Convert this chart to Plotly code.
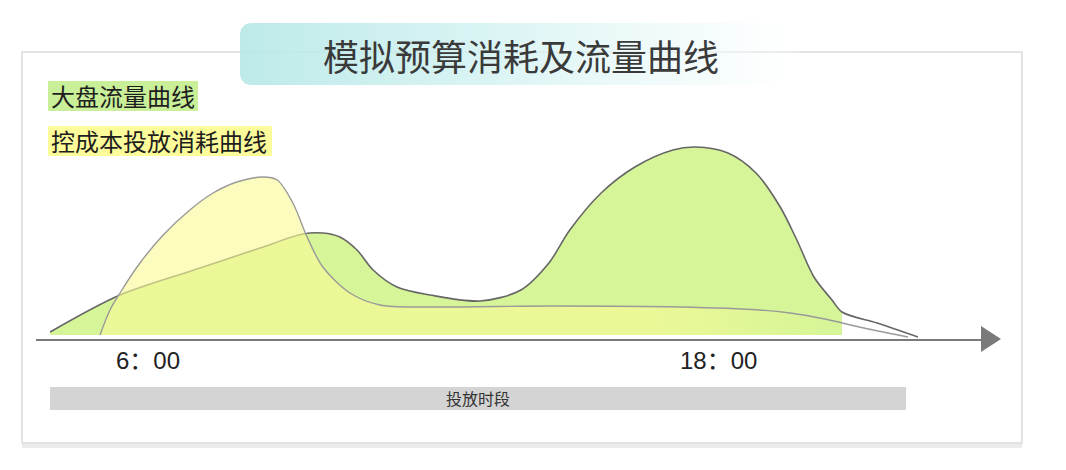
import math
import plotly.graph_objects as go

# 大盘流量曲线 (hour, traffic)
traffic_hours = [3.94, 5.41, 7.03, 8.36, 9.26, 9.68, 10.04, 10.40, 10.74, 11.24, 11.94,
                 12.99, 13.85, 14.44, 14.88, 15.54, 16.25, 17.05, 17.52, 18.21, 18.80,
                 19.31, 19.66, 20.02, 20.40, 20.61, 21.35, 22.21]
traffic_values = [3, 40, 66, 87, 101, 102, 98, 85, 65, 48, 40,
                  34, 45, 72, 105, 142, 168, 185, 188, 182, 162,
                  128, 95, 58, 35, 23, 12, -2]

# 控成本投放消耗曲线 (hour, spend)
spend_hours = [4.99, 5.20, 5.41, 5.83, 6.32, 6.88, 7.37, 7.87, 8.42, 8.72, 9.05,
               9.35, 9.68, 10.25, 10.88, 11.94, 14.46, 17.20, 18.88, 19.52, 20.25,
               20.97, 22.0]
spend_values = [0, 25, 42, 72, 100, 125, 142, 153, 158, 155, 132,
                98, 68, 42, 30, 28, 29, 28, 25, 22, 16,
                8, -2]

tick_hours = [6, 18]
tick_labels = ["6：00", "18：00"]

title = "模拟预算消耗及流量曲线"
legend_names = ["大盘流量曲线", "控成本投放消耗曲线"]
bar_label = "投放时段"

# page body has an 8px margin, so the figure is drawn 8px in from the corner
OFF = 8
W, H = 1066 - 2 * OFF, 470 - 2 * OFF
FONT = "Noto Sans CJK SC"


# helpers: screen pixel -> paper / data coordinates
def px(x):
    return (x - OFF) / W


def py(y):
    return 1 - (y - OFF) / H


def hx(x):
    return 6 + (x - 148) / 47.5


def vy(y):
    return 335 - y


def rounded_rect(x0, y0, x1, y1, r):
    xs, ys = [], []
    corners = [(x1 - r, y0 + r, -90, 0), (x1 - r, y1 - r, 0, 90),
               (x0 + r, y1 - r, 90, 180), (x0 + r, y0 + r, 180, 270)]
    for cx, cy, a0, a1 in corners:
        for k in range(9):
            a = math.radians(a0 + (a1 - a0) * k / 8)
            xs.append(hx(cx + r * math.cos(a)))
            ys.append(vy(cy + r * math.sin(a)))
    xs.append(xs[0])
    ys.append(ys[0])
    return xs, ys


fig = go.Figure()

# title box with horizontal gradient
bx, by = rounded_rect(240, 23, 800, 85, 11)
fig.add_trace(go.Scatter(
    x=bx, y=by, mode="lines", fill="toself", line=dict(width=0),
    fillgradient=dict(type="horizontal", colorscale=[
        [0, "rgba(182,232,230,0.9)"], [0.45, "rgba(212,242,242,0.85)"],
        [0.85, "rgba(240,250,250,0.6)"], [1, "rgba(255,255,255,0.2)"]]),
    hoverinfo="skip", showlegend=False))

green_cut = sum(1 for h in traffic_hours if h <= 20.65)
yellow_cut = sum(1 for h in spend_hours if h <= 20.3)

fig.add_trace(go.Scatter(
    x=traffic_hours[:green_cut], y=traffic_values[:green_cut], mode="lines",
    line=dict(width=0, shape="spline", smoothing=0.9), fill="tozeroy",
    fillcolor="rgb(213,245,152)", hoverinfo="skip", showlegend=False))
fig.add_trace(go.Scatter(
    x=traffic_hours, y=traffic_values, mode="lines", name=legend_names[0],
    line=dict(color="#666666", width=1.6, shape="spline", smoothing=0.9),
    showlegend=False))
fig.add_trace(go.Scatter(
    x=spend_hours[:yellow_cut], y=spend_values[:yellow_cut], mode="lines",
    line=dict(width=0, shape="spline", smoothing=0.9), fill="tozeroy",
    fillgradient=dict(type="horizontal", colorscale=[
        [0, "rgba(250,250,150,0.62)"], [0.75, "rgba(250,250,150,0.62)"],
        [1, "rgba(250,250,150,0.05)"]]),
    hoverinfo="skip", showlegend=False))
fig.add_trace(go.Scatter(
    x=spend_hours, y=spend_values, mode="lines", name=legend_names[1],
    line=dict(color="#9a9a9a", width=1.4, shape="spline", smoothing=0.9),
    showlegend=False))

P = dict(xref="paper", yref="paper")
shapes = [
    # panel + bottom shadow
    dict(type="rect", x0=px(22), x1=px(1022), y0=py(441), y1=py(448),
         fillcolor="rgba(0,0,0,0.08)", line=dict(width=0), layer="below", **P),
    dict(type="rect", x0=px(22), x1=px(1022), y0=py(52), y1=py(443),
         fillcolor="white", line=dict(color="#dcdcdc", width=1.5), layer="below", **P),
    # legend label backgrounds
    dict(type="rect", x0=px(48), x1=px(198), y0=py(81), y1=py(111),
         fillcolor="#c9ef98", line=dict(width=0), layer="below", **P),
    dict(type="rect", x0=px(48), x1=px(272), y0=py(126), y1=py(156),
         fillcolor="#fdfc9a", line=dict(width=0), layer="below", **P),
    # x axis with arrow
    dict(type="line", x0=px(36), x1=px(985), y0=py(340), y1=py(340),
         line=dict(color="#7a7a7a", width=2), **P),
    dict(type="path",
         path=f"M {px(981)} {py(326)} L {px(1001)} {py(339)} L {px(981)} {py(352)} Z",
         fillcolor="#7a7a7a", line=dict(width=0), **P),
    # delivery period bar
    dict(type="rect", x0=px(50), x1=px(906), y0=py(387), y1=py(410),
         fillcolor="#d4d4d4", line=dict(width=0), layer="below", **P),
]

M = dict(xref="paper", yref="paper", yanchor="middle", showarrow=False)
annotations = [
    dict(x=px(521), y=py(55), text=title, xanchor="center",
         font=dict(family=FONT, size=36, color="#3a3a3a"), **M),
    dict(x=px(49), y=py(96), text=legend_names[0], xanchor="left",
         font=dict(family=FONT, size=24, color="#1e1e1e"), **M),
    dict(x=px(49), y=py(141), text=legend_names[1], xanchor="left",
         font=dict(family=FONT, size=24, color="#1e1e1e"), **M),
    dict(x=px(478), y=py(398), text=bar_label, xanchor="center",
         font=dict(family=FONT, size=16, color="#333333"), **M),
]
for h, t in zip(tick_hours, tick_labels):
    annotations.append(dict(x=h, xref="x", y=py(360), yref="paper", text=t,
                            xanchor="center", yanchor="middle", showarrow=False,
                            font=dict(family="Liberation Sans, " + FONT, size=24,
                                      color="#222222")))

fig.update_layout(
    width=W, height=H, autosize=False,
    margin=dict(l=0, r=0, t=0, b=0),
    paper_bgcolor="white", plot_bgcolor="rgba(0,0,0,0)",
    xaxis=dict(range=[hx(OFF), hx(OFF + W)], visible=False, fixedrange=True),
    yaxis=dict(range=[vy(OFF + H), vy(OFF)], visible=False, fixedrange=True),
    shapes=shapes, annotations=annotations,
)

fig.write_html("out.html")
